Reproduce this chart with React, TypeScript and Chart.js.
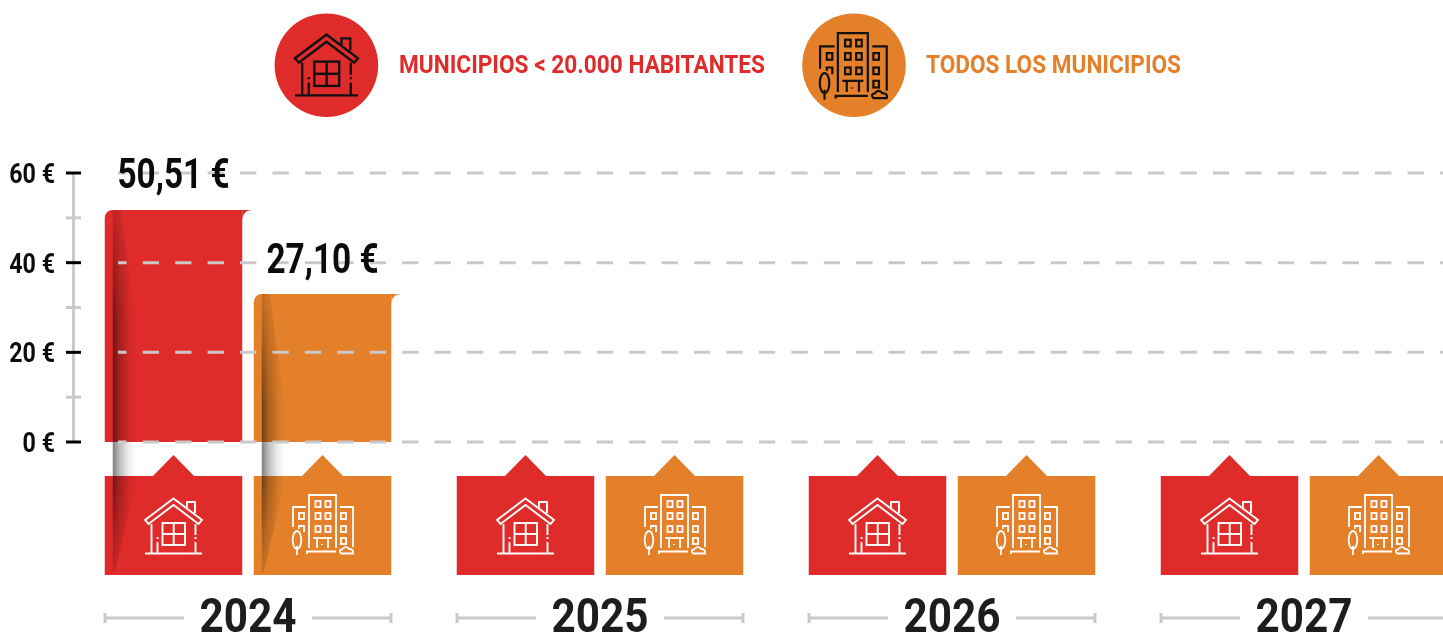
import React, { useEffect, useRef } from "react";
import { Chart, registerables } from "chart.js";

Chart.register(...registerables);

const years = ["2024", "2025", "2026", "2027"];
// Bar heights as drawn in the picture, read against the € axis
const smallTowns: (number | null)[] = [51.75, null, null, null];
const allTowns: (number | null)[] = [33, null, null, null];
// Printed value labels
const smallTownsLabels = ["50,51 €", "", "", ""];
const allTownsLabels = ["27,10 €", "", "", ""];
const legendSmall = "MUNICIPIOS < 20.000 HABITANTES";
const legendAll = "TODOS LOS MUNICIPIOS";

const RED = "#E02B2B";
const ORANGE = "#E48029";
const GREY = "#C9C9C9";
const FONT = "Roboto";

function drawHouse(c: CanvasRenderingContext2D, x: number, y: number, s: number, color: string, lw: number) {
  c.save();
  c.translate(x, y);
  c.scale(s, s);
  c.strokeStyle = color;
  c.lineWidth = lw / s;
  c.lineJoin = "miter";
  const poly = (pts: number[][], close = false) => {
    c.beginPath();
    pts.forEach((p, i) => (i ? c.lineTo(p[0], p[1]) : c.moveTo(p[0], p[1])));
    if (close) c.closePath();
    c.stroke();
  };
  poly([[0, 22], [28.5, 0.5], [57, 22], [53.5, 26], [28.5, 7], [3.5, 26]], true);
  poly([[42, 10], [42, 4], [50, 4], [50, 15]]);
  poly([[6.5, 26], [6.5, 55]]);
  poly([[12.5, 39], [12.5, 41]]);
  poly([[12.5, 44], [12.5, 55]]);
  poly([[50.5, 26], [50.5, 37]]);
  poly([[50.5, 39], [50.5, 41]]);
  poly([[50.5, 44], [50.5, 55]]);
  c.strokeRect(17.5, 25, 22.5, 22);
  poly([[28.7, 25], [28.7, 47]]);
  poly([[17.5, 36], [40, 36]]);
  poly([[0, 55.5], [57, 55.5]]);
  c.restore();
}

function drawBuilding(c: CanvasRenderingContext2D, x: number, y: number, s: number, color: string, lw: number) {
  c.save();
  c.translate(x, y);
  c.scale(s, s);
  c.strokeStyle = color;
  c.lineWidth = lw / s;
  const poly = (pts: number[][]) => {
    c.beginPath();
    pts.forEach((p, i) => (i ? c.lineTo(p[0], p[1]) : c.moveTo(p[0], p[1])));
    c.stroke();
  };
  poly([[17, 54], [17, 1], [44, 1], [44, 54]]);
  [7, 19, 32].forEach((wy) => {
    c.strokeRect(23.5, wy, 5, 6);
    c.strokeRect(33.5, wy, 5, 6);
  });
  poly([[21, 44], [40, 44]]);
  poly([[25, 44], [25, 54]]);
  poly([[36, 44], [36, 54]]);
  poly([[30, 50], [30, 51]]);
  poly([[1, 33], [1, 13], [14, 13]]);
  c.strokeRect(7, 19, 5, 6);
  poly([[7, 35], [7, 32], [12, 32], [12, 38]]);
  poly([[48, 13], [61, 13], [61, 53]]);
  [19, 32, 44].forEach((wy) => c.strokeRect(49, wy, 5, 6));
  c.beginPath();
  c.ellipse(5, 46, 4.3, 9, 0, 0, Math.PI * 2);
  c.stroke();
  poly([[5, 52], [5, 61]]);
  poly([[15, 60], [15, 57.5], [44, 57.5]]);
  c.beginPath();
  c.moveTo(49, 59.5);
  c.quadraticCurveTo(46, 56, 50, 55.5);
  c.quadraticCurveTo(54, 51, 57, 55);
  c.quadraticCurveTo(62, 55, 61, 59.5);
  c.closePath();
  c.stroke();
  c.restore();
}

// Draws text squeezed horizontally by sx, since no condensed face is installed
function squeezedText(c: CanvasRenderingContext2D, text: string, x: number, y: number, sx: number, size: number, color: string, align: CanvasTextAlign) {
  c.save();
  c.translate(x, y);
  c.scale(sx, 1);
  c.font = `bold ${size}px ${FONT}`;
  c.fillStyle = color;
  c.textAlign = align;
  c.textBaseline = "alphabetic";
  c.fillText(text, 0, 0);
  c.restore();
}

function fitScale(c: CanvasRenderingContext2D, text: string, size: number, width: number) {
  c.save();
  c.font = `bold ${size}px ${FONT}`;
  const w = c.measureText(text).width;
  c.restore();
  return width / w;
}

const decorPlugin = {
  id: "decor",
  afterDatasetsDraw(chart: any) {
    const c: CanvasRenderingContext2D = chart.ctx;
    const xs = chart.scales.x;
    const ys = chart.scales.y;
    const zero = ys.getPixelForValue(0);
    const halfPitch = 74.5;
    const halfBar = 68.75;
    const tagTop = 476;
    const tagBottom = 575;

    // top-right flares of the bars
    [
      { data: smallTowns, color: RED, off: -halfPitch },
      { data: allTowns, color: ORANGE, off: halfPitch },
    ].forEach((s) => {
      s.data.forEach((v, i) => {
        if (v == null) return;
        const r = xs.getPixelForValue(i) + s.off + halfBar;
        const t = ys.getPixelForValue(v);
        c.fillStyle = s.color;
        c.beginPath();
        c.moveTo(r, t);
        c.lineTo(r + 10.5, t);
        c.quadraticCurveTo(r, t, r, t + 11.5);
        c.closePath();
        c.fill();
      });
    });

    // tags with icons
    years.forEach((_, i) => {
      const center = xs.getPixelForValue(i);
      [
        { off: -halfPitch, color: RED, house: true },
        { off: halfPitch, color: ORANGE, house: false },
      ].forEach((t) => {
        const mid = center + t.off;
        c.fillStyle = t.color;
        c.beginPath();
        c.moveTo(mid - halfBar, tagTop);
        c.lineTo(mid - 20.5, tagTop);
        c.lineTo(mid, 455);
        c.lineTo(mid + 20.5, tagTop);
        c.lineTo(mid + halfBar, tagTop);
        c.lineTo(mid + halfBar, tagBottom);
        c.lineTo(mid - halfBar, tagBottom);
        c.closePath();
        c.fill();
        if (t.house) drawHouse(c, mid - 28.5, 498, 1, "#fff", 1.9);
        else drawBuilding(c, mid - 30.5, 494, 1, "#fff", 1.8);
      });

      // year rulers
      c.strokeStyle = GREY;
      c.lineWidth = 3;
      [
        [center - 143, center - 64, center - 143],
        [center + 64, center + 143, center + 143],
      ].forEach(([a, b, cap]) => {
        c.beginPath();
        c.moveTo(a, 618);
        c.lineTo(b, 618);
        c.moveTo(cap, 613);
        c.lineTo(cap, 623);
        c.stroke();
      });

      // year label, from the category scale
      const yearText = xs.getLabelForValue(i);
      squeezedText(c, yearText, center, 632, fitScale(c, yearText, 48, 97), 48, "#1d1d1b", "center");
    });

    // fold shadows on the bars that carry data, built row by row
    [
      { data: smallTowns, off: -halfPitch },
      { data: allTowns, off: halfPitch },
    ].forEach((s) => {
      s.data.forEach((v, i) => {
        if (v == null) return;
        const left = xs.getPixelForValue(i) + s.off - halfBar + 8;
        const t = ys.getPixelForValue(v);
        const g = c.createLinearGradient(left, 0, left + 23, 0);
        g.addColorStop(0, "rgba(0,0,0,0.5)");
        g.addColorStop(0.3, "rgba(0,0,0,0.26)");
        g.addColorStop(0.7, "rgba(0,0,0,0.07)");
        g.addColorStop(1, "rgba(0,0,0,0)");
        c.save();
        c.fillStyle = g;
        for (let y = Math.round(t); y < tagBottom - 3; y++) {
          let a = 1;
          let w = 23;
          if (y < t + 110) {
            const f = (y - t) / 110;
            a = 0.3 + 0.7 * f;
            w = 8 + 15 * f;
          } else if (y > tagTop + 6) {
            const f = (y - tagTop - 6) / (tagBottom - tagTop - 9);
            a = 1 - 0.75 * f;
            w = 23 - 21 * f;
          }
          c.globalAlpha = a;
          c.fillRect(left, y, w, 1);
        }
        c.restore();
      });
    });

    // dashed grid
    c.save();
    c.strokeStyle = GREY;
    c.lineWidth = 3;
    c.setLineDash([16.3, 16.13]);
    c.lineDashOffset = 7.7;
    ys.ticks.forEach((tick: any) => {
      if (tick.value % 20 !== 0) return;
      const y = ys.getPixelForValue(tick.value);
      c.beginPath();
      c.moveTo(118, y);
      c.lineTo(chart.width, y);
      c.stroke();
    });
    c.restore();

    // axis line, tick marks and tick labels
    c.strokeStyle = GREY;
    c.lineWidth = 3;
    c.beginPath();
    c.moveTo(73.5, ys.getPixelForValue(60));
    c.lineTo(73.5, zero);
    c.stroke();
    ys.ticks.forEach((tick: any) => {
      const y = ys.getPixelForValue(tick.value);
      const major = tick.value % 20 === 0;
      c.strokeStyle = major ? "#000" : GREY;
      c.beginPath();
      c.moveTo(66, y);
      c.lineTo(81, y);
      c.stroke();
      if (major) squeezedText(c, `${tick.value} €`, 55, y + 10, 0.83, 28, "#0b0b0b", "right");
    });

    // value labels
    [
      { data: smallTowns, labels: smallTownsLabels, off: -halfPitch },
      { data: allTowns, labels: allTownsLabels, off: halfPitch },
    ].forEach((s) => {
      s.data.forEach((v, i) => {
        if (v == null) return;
        const mid = xs.getPixelForValue(i) + s.off;
        const text = s.labels[i];
        squeezedText(c, text, mid, ys.getPixelForValue(v) - 21.5, fitScale(c, text, 42, 112), 42, "#0b0b0b", "center");
      });
    });

    // legend
    c.fillStyle = RED;
    c.beginPath();
    c.arc(326.4, 65.2, 51.8, 0, Math.PI * 2);
    c.fill();
    drawHouse(c, 295, 34, 1.105, "#111", 2.4);
    squeezedText(c, legendSmall, 399, 72.7, fitScale(c, legendSmall, 26.5, 366), 26.5, RED, "left");
    c.fillStyle = ORANGE;
    c.beginPath();
    c.arc(854, 65.2, 51.8, 0, Math.PI * 2);
    c.fill();
    drawBuilding(c, 819, 32, 1.11, "#111", 2.2);
    squeezedText(c, legendAll, 926, 72.7, fitScale(c, legendAll, 26.5, 255), 26.5, ORANGE, "left");
  },
};

export default function App() {
  const ref = useRef<HTMLCanvasElement>(null);
  useEffect(() => {
    document.body.style.margin = "0";
    const chart = new Chart(ref.current!, {
      type: "bar",
      plugins: [decorPlugin],
      data: {
        labels: years,
        datasets: [
          { label: legendSmall, data: smallTowns, backgroundColor: RED },
          { label: legendAll, data: allTowns, backgroundColor: ORANGE },
        ],
      },
      options: {
        animation: false,
        responsive: false,
        layout: { autoPadding: false, padding: { top: 173, left: 0, right: 0, bottom: 0 } },
        datasets: {
          bar: {
            categoryPercentage: 298 / 352,
            barPercentage: 137.5 / 149,
            borderRadius: { topLeft: 8, topRight: 0, bottomLeft: 0, bottomRight: 0 },
          },
        },
        plugins: { legend: { display: false }, tooltip: { enabled: false }, title: { display: false } },
        scales: {
          x: {
            grid: { display: false },
            border: { display: false },
            afterFit: (s: any) => {
              s.height = 191;
            },
            ticks: { display: false, autoSkip: false, maxRotation: 0 },
          },
          y: {
            min: 0,
            max: 60,
            grid: { display: false },
            border: { display: false },
            afterFit: (s: any) => {
              s.width = 72;
            },
            ticks: { display: false, stepSize: 10 },
          },
        },
      },
    } as any);
    return () => chart.destroy();
  }, []);
  return (
    <div style={{ position: "fixed", left: 0, top: 0, width: 1443, height: 633, overflow: "hidden", background: "#fff" }}>
      <canvas ref={ref} width={1480} height={633} style={{ display: "block" }} />
    </div>
  );
}
